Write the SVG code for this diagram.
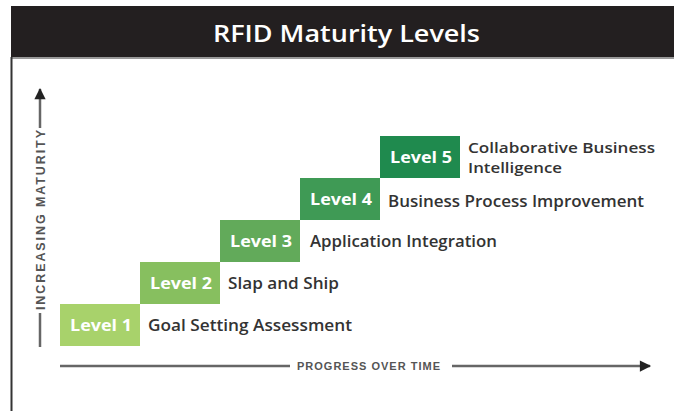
<svg xmlns="http://www.w3.org/2000/svg" width="674" height="411" viewBox="0 0 674 411">
<defs>
<style>
.lvl{font-family:"Open Sans","Liberation Sans",Arial,sans-serif;font-weight:bold;font-size:15.5px;fill:#fff;text-anchor:middle}
.desc{font-family:"Open Sans","Liberation Sans",Arial,sans-serif;font-weight:600;font-size:15.5px;fill:#333}
.desc2{font-size:14.5px}
.axis{font-family:"Liberation Sans",Arial,sans-serif;font-weight:bold;font-size:11px;fill:#555}
.vaxis{font-size:12.5px}
.ax{stroke:#666;stroke-width:2.5;fill:none}
</style>
<marker id="ah" viewBox="0 0 10 10" refX="9" refY="5" markerWidth="6" markerHeight="4.5" markerUnits="strokeWidth" orient="auto">
<path d="M0,0 L10,5 L0,10 z" fill="#222"/>
</marker>
</defs>
<rect width="674" height="411" fill="#fff"/>
<g id="header">
<rect x="11" y="6" width="663" height="51" fill="#231f20"/>
<line x1="11" y1="58" x2="674" y2="58" stroke="#999" stroke-width="2"/>
<line x1="11.5" y1="57" x2="11.5" y2="411" stroke="#333" stroke-width="2"/>
<text x="213" y="42" font-family="Open Sans,Liberation Sans,Arial,sans-serif" font-weight="600" font-size="24" fill="#fff" textLength="267" lengthAdjust="spacingAndGlyphs">RFID Maturity Levels</text>
</g>
<g id="connectors">
<line class="ax" x1="40" y1="128" x2="40" y2="89" marker-end="url(#ah)"/>
<line class="ax" x1="40" y1="313" x2="40" y2="347"/>
<text class="axis vaxis" transform="translate(44.5,310) rotate(-90)" textLength="180" lengthAdjust="spacing">INCREASING MATURITY</text>
<line class="ax" x1="60" y1="366" x2="290" y2="366"/>
<line class="ax" x1="452" y1="366" x2="650" y2="366" marker-end="url(#ah)"/>
<text class="axis" x="297" y="370" textLength="143" lengthAdjust="spacing">PROGRESS OVER TIME</text>
</g>
<g id="level1">
<rect x="60" y="304" width="80" height="42" fill="#a8d26b"/>
<text class="lvl" x="101" y="331" textLength="62" lengthAdjust="spacingAndGlyphs">Level 1</text>
<text class="desc" x="148" y="331" textLength="204" lengthAdjust="spacingAndGlyphs">Goal Setting Assessment</text>
</g>
<g id="level2">
<rect x="140" y="262" width="80" height="42" fill="#87bf5f"/>
<text class="lvl" x="181" y="289" textLength="62" lengthAdjust="spacingAndGlyphs">Level 2</text>
<text class="desc" x="228" y="289" textLength="111" lengthAdjust="spacingAndGlyphs">Slap and Ship</text>
</g>
<g id="level3">
<rect x="220" y="220" width="80" height="42" fill="#62aa5a"/>
<text class="lvl" x="261" y="247" textLength="62" lengthAdjust="spacingAndGlyphs">Level 3</text>
<text class="desc" x="310" y="247" textLength="187" lengthAdjust="spacingAndGlyphs">Application Integration</text>
</g>
<g id="level4">
<rect x="300" y="178" width="80" height="42" fill="#3f9a55"/>
<text class="lvl" x="341" y="205" textLength="62" lengthAdjust="spacingAndGlyphs">Level 4</text>
<text class="desc" x="388" y="207" textLength="256" lengthAdjust="spacingAndGlyphs">Business Process Improvement</text>
</g>
<g id="level5">
<rect x="380" y="136" width="80" height="42" fill="#1f8a4e"/>
<text class="lvl" x="421" y="163" textLength="62" lengthAdjust="spacingAndGlyphs">Level 5</text>
<text class="desc desc2" x="468" y="153" textLength="187" lengthAdjust="spacingAndGlyphs">Collaborative Business</text>
<text class="desc desc2" x="468" y="173" textLength="94" lengthAdjust="spacingAndGlyphs">Intelligence</text>
</g>
</svg>
